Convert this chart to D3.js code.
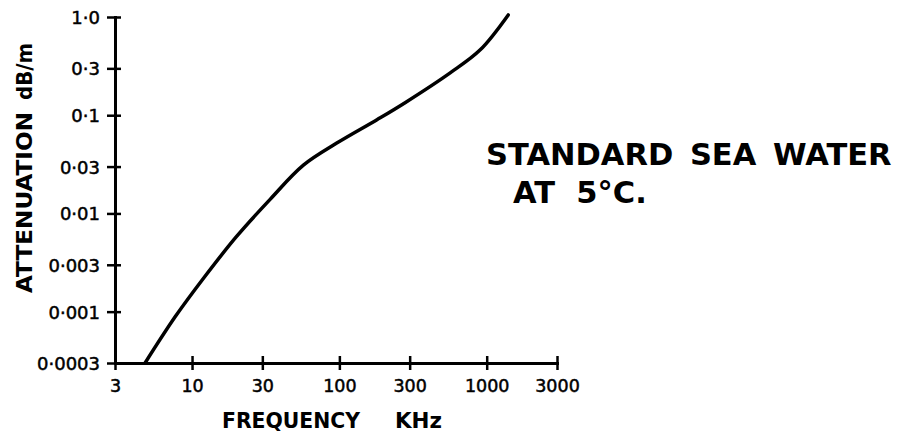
<!DOCTYPE html>
<html><head><meta charset="utf-8">
<script src="https://cdn.jsdelivr.net/npm/d3@7"></script>
<style>html,body{margin:0;padding:0;background:#fff;} svg{display:block;}</style>
</head><body>
<svg id="chart" width="902" height="435"></svg>
<script>
// ---- data ----
const freqTicks = [3, 10, 30, 100, 300, 1000, 3000];
const freqTickLabels = ["3", "10", "30", "100", "300", "1000", "3000"];
const attenTicks = [1, 0.3, 0.1, 0.03, 0.01, 0.003, 0.001, 0.0003];
const attenTickLabels = ["1·0", "0·3", "0·1", "0·03", "0·01", "0·003", "0·001", "0·0003"];
const curveFreq = [4.8, 7.7, 12, 20, 34, 57, 96, 180, 281, 565, 900, 1400];
const curveAtten = [0.0003, 0.00089, 0.0022, 0.0058, 0.014, 0.031, 0.052, 0.090, 0.135, 0.27, 0.46, 1.05];
const xTitle = "FREQUENCY";
const xUnit = "KHz";
const yTitle = "ATTENUATION";
const yUnit = "dB/m";
const noteLines = ["STANDARD SEA WATER", "AT  5°C."];

// ---- drawing ----
const FONT = "'DejaVu Sans', sans-serif";
const svg = d3.select("#chart");
const x = d3.scaleLog().domain([3, 3000]).range([115, 557]);
const y = d3.scaleLog().domain([0.0003, 1]).range([363, 17]);

// x axis
const xAxis = d3.axisBottom(x).tickValues(freqTicks)
  .tickFormat((d, i) => freqTickLabels[i]).tickSizeOuter(0).tickSizeInner(7);
const gx = svg.append("g").attr("transform", "translate(0,363)").call(xAxis)
  .attr("font-family", FONT).attr("font-size", 17.5).attr("font-weight", 500);
gx.select(".domain").attr("stroke", "#000").attr("stroke-width", 3).attr("stroke-linecap", "square");
gx.selectAll(".tick line").attr("y1", -7).attr("y2", 7).attr("stroke", "#000").attr("stroke-width", 2.5);
gx.selectAll(".tick text").attr("y", 29).attr("dy", 0).attr("fill", "#000")
  .attr("stroke", "#000").attr("stroke-width", 0.5);

// y axis
const yAxis = d3.axisLeft(y).tickValues(attenTicks)
  .tickFormat((d, i) => attenTickLabels[i]).tickSizeOuter(0).tickSizeInner(8);
const gy = svg.append("g").attr("transform", "translate(115,0)").call(yAxis)
  .attr("font-family", FONT).attr("font-size", 18).attr("font-weight", 500);
gy.select(".domain").attr("stroke", "#000").attr("stroke-width", 3).attr("stroke-linecap", "square");
gy.selectAll(".tick line").attr("x1", -8).attr("x2", 6).attr("stroke", "#000").attr("stroke-width", 2.5);
gy.selectAll(".tick text").attr("x", -15).attr("dy", "0.36em").attr("fill", "#000")
  .attr("stroke", "#000").attr("stroke-width", 0.5);

// curve
const pts = curveFreq.map((f, i) => ({ f: f, a: curveAtten[i] }));
const line = d3.line().x(d => x(d.f)).y(d => y(d.a)).curve(d3.curveCatmullRom.alpha(0.5));
svg.append("path").datum(pts).attr("d", line)
  .attr("fill", "none").attr("stroke", "#000").attr("stroke-width", 3.5)
  .attr("stroke-linecap", "round").attr("stroke-linejoin", "round");

// axis titles
const T = (s) => svg.append("text").attr("font-family", FONT).attr("font-weight", "bold")
  .style("white-space", "pre").text(s);
T(xTitle).attr("x", 222).attr("y", 428).attr("font-size", 21.5).attr("textLength", 138).attr("lengthAdjust", "spacingAndGlyphs");
T(xUnit).attr("x", 395).attr("y", 428).attr("font-size", 21.5).attr("textLength", 47).attr("lengthAdjust", "spacingAndGlyphs");
T(yTitle).attr("transform", "translate(32,293) rotate(-90)").attr("font-size", 22).attr("textLength", 181).attr("lengthAdjust", "spacingAndGlyphs");
T(yUnit).attr("transform", "translate(32,100) rotate(-90)").attr("font-size", 22).attr("textLength", 57).attr("lengthAdjust", "spacingAndGlyphs");

// annotation
T(noteLines[0]).attr("x", 486).attr("y", 165).attr("font-size", 30.5).attr("word-spacing", 6);
T(noteLines[1]).attr("x", 513).attr("y", 203).attr("font-size", 30.5);
</script>
</body></html>
